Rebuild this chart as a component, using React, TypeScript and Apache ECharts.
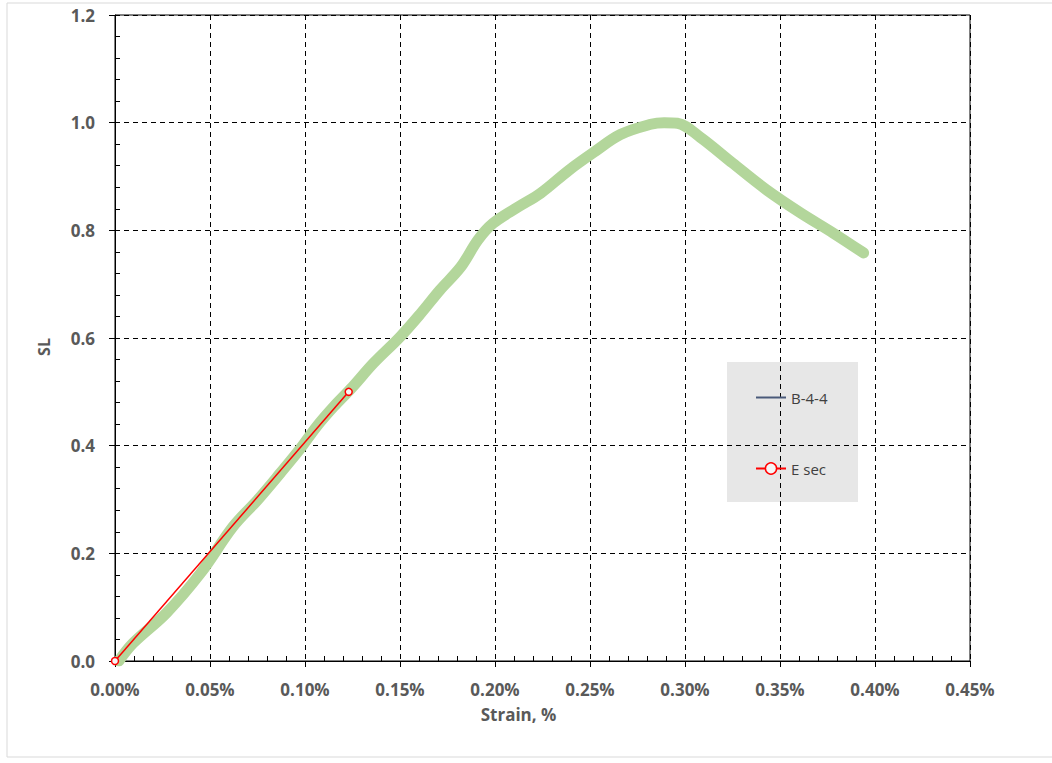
import React, { useEffect, useRef } from "react";
import * as echarts from "echarts";

const strainB44 = [0.002, 0.0095, 0.027, 0.045, 0.062, 0.075, 0.087, 0.097, 0.106, 0.115, 0.125, 0.136, 0.150, 0.161, 0.171, 0.182, 0.191, 0.199, 0.212, 0.224, 0.239, 0.252, 0.266, 0.282, 0.289, 0.296, 0.308, 0.325, 0.343, 0.361, 0.378, 0.394];
const slB44 = [0.0, 0.033, 0.089, 0.163, 0.249, 0.299, 0.349, 0.392, 0.435, 0.472, 0.509, 0.553, 0.602, 0.646, 0.689, 0.732, 0.782, 0.813, 0.843, 0.869, 0.912, 0.945, 0.978, 0.997, 1.0, 0.999, 0.973, 0.925, 0.875, 0.832, 0.795, 0.758];
const strainEsec = [0, 0.123];
const slEsec = [0, 0.5];
const seriesNames = ["B-4-4", "E sec"];
const xTitle = "Strain, %";
const yTitle = "SL";

export default function App() {
  const ref = useRef<HTMLDivElement>(null);
  useEffect(() => {
    if (!ref.current) return;
    const chart = echarts.init(ref.current, null, { renderer: "svg" });
    const labelFont = { fontFamily: "Open Sans", fontWeight: "bold" as const, fontSize: 17, color: "#595959" };
    chart.setOption({
      animation: false,
      backgroundColor: "#ffffff",
      graphic: [
        {
          type: "rect",
          z: -10,
          shape: { x: 7, y: 3, width: 1050, height: 754 },
          style: { fill: "none", stroke: "#d9d9d9", lineWidth: 1 },
        },
        {
          type: "rect",
          z: -5,
          shape: { x: 727, y: 362, width: 131, height: 140 },
          style: { fill: "#e7e7e7" },
        },
      ],
      grid: {
        left: 115,
        top: 15,
        right: 82,
        bottom: 102,
        show: true,
        borderColor: "#000",
        borderWidth: 1,
        backgroundColor: "transparent",
      },
      legend: {
        orient: "vertical",
        left: 750,
        top: 385,
        itemGap: 56,
        itemWidth: 30,
        itemHeight: 14,
        itemStyle: { borderWidth: 1.5 },
        textStyle: { fontFamily: "Open Sans", fontSize: 15, color: "#404040" },
        data: [
          { name: seriesNames[0], icon: "path://M0,0 L30,0 L30,2 L0,2 Z", itemStyle: { color: "#4a5a7a" } },
          { name: seriesNames[1] },
        ],
      },
      xAxis: {
        type: "value",
        min: 0,
        max: 0.45,
        interval: 0.05,
        name: xTitle,
        nameLocation: "middle",
        nameGap: 45,
        nameTextStyle: { fontFamily: "Open Sans", fontWeight: "bold", fontSize: 17, color: "#595959", padding: [0, 48, 0, 0] },
        axisLine: { show: true, onZero: false, lineStyle: { color: "#000", width: 1 } },
        axisTick: { show: true, inside: false, length: 6, lineStyle: { color: "#000" } },
        minorTick: { show: true, splitNumber: 5, length: -5, lineStyle: { color: "#000" } },
        axisLabel: { ...labelFont, margin: 20, formatter: (v: number) => v.toFixed(2) + "%" },
        splitLine: { show: true, lineStyle: { color: "#000", type: [5, 4], width: 1 } },
      },
      yAxis: {
        type: "value",
        min: 0,
        max: 1.2,
        interval: 0.2,
        name: yTitle,
        nameLocation: "middle",
        nameGap: 63,
        nameTextStyle: { fontFamily: "Open Sans", fontWeight: "bold", fontSize: 16, color: "#595959", padding: [0, 18, 0, 0] },
        axisLine: { show: true, onZero: false, lineStyle: { color: "#000", width: 1 } },
        axisTick: { show: true, inside: false, length: 6, lineStyle: { color: "#000" } },
        minorTick: { show: true, splitNumber: 5, length: -5, lineStyle: { color: "#000" } },
        axisLabel: { ...labelFont, margin: 20, formatter: (v: number) => v.toFixed(1) },
        splitLine: { show: true, lineStyle: { color: "#000", type: [5, 4], width: 1 } },
      },
      series: [
        {
          name: seriesNames[0],
          type: "line",
          data: strainB44.map((x, i) => [x, slB44[i]]),
          showSymbol: false,
          symbol: "none",
          smooth: 0.35,
          lineStyle: { color: "#b3d69b", width: 11, cap: "round", join: "round" },
          itemStyle: { color: "#b3d69b" },
          z: 2,
        },
        {
          name: seriesNames[1],
          type: "line",
          data: strainEsec.map((x, i) => [x, slEsec[i]]),
          symbol: "circle",
          symbolSize: 7,
          lineStyle: { color: "#ff0000", width: 1.5 },
          itemStyle: { color: "#f5f5f5", borderColor: "#ff0000", borderWidth: 1.5 },
          z: 3,
        },
      ],
    });
    return () => chart.dispose();
  }, []);
  return <div ref={ref} style={{ position: "fixed", left: 0, top: 0, width: 1052, height: 763 }} />;
}
